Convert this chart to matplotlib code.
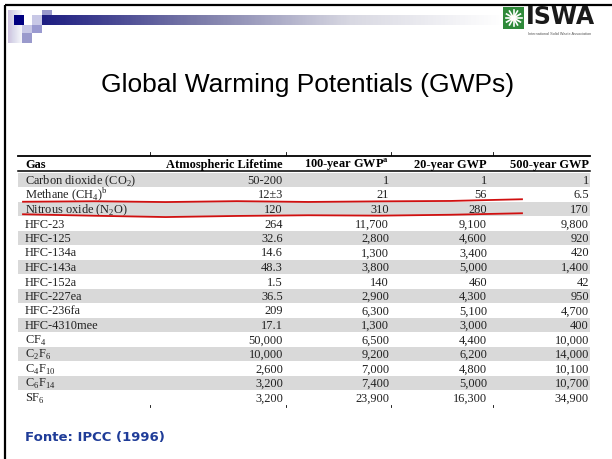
import numpy as np
import matplotlib.pyplot as plt
from matplotlib.patches import Rectangle, Circle
from matplotlib.colors import LinearSegmentedColormap

plt.rcParams['mathtext.fontset'] = 'custom'
plt.rcParams['mathtext.rm'] = 'Liberation Serif'
plt.rcParams['mathtext.bf'] = 'Liberation Serif:bold'

# table data (IPCC 1996)
gases = ['Carbon dioxide (CO$_2$)', 'Methane (CH$_4$)$^{\\mathrm{b}}$', 'Nitrous oxide (N$_2$O)',
         'HFC-23', 'HFC-125', 'HFC-134a', 'HFC-143a', 'HFC-152a', 'HFC-227ea', 'HFC-236fa',
         'HFC-4310mee', 'CF$_4$', 'C$_2$F$_6$', 'C$_4$F$_{10}$', 'C$_6$F$_{14}$', 'SF$_6$']
lifetime = ['50-200', '12\u00b13', '120', '264', '32.6', '14.6', '48.3', '1.5', '36.5', '209',
            '17.1', '50,000', '10,000', '2,600', '3,200', '3,200']
gwp100 = ['1', '21', '310', '11,700', '2,800', '1,300', '3,800', '140', '2,900', '6,300',
          '1,300', '6,500', '9,200', '7,000', '7,400', '23,900']
gwp20 = ['1', '56', '280', '9,100', '4,600', '3,400', '5,000', '460', '4,300', '5,100',
         '3,000', '4,400', '6,200', '4,800', '5,000', '16,300']
gwp500 = ['1', '6.5', '170', '9,800', '920', '420', '1,400', '42', '950', '4,700',
          '400', '10,000', '14,000', '10,100', '10,700', '34,900']
headers = ['Gas', 'Atmospheric Lifetime', '100-year GWP$^{\\mathbf{a}}$', '20-year GWP', '500-year GWP']
columns = [lifetime, gwp100, gwp20, gwp500]

# rows that are underlined by hand in red (Methane, Nitrous oxide)
marked_rows = [1, 2]
wobble = [[0.0, -0.5, 0.3, -0.6, 0.2, -0.4, -0.8, -2.5],
          [-2.0, -0.5, 0.8, -0.3, -1.0, -0.6, -1.5, -3.0]]

# layout in pixels of the slide
col_right = [283, 389, 487, 589]
row0, pitch = 180.0, 14.5
tab_left, tab_right = 18, 590

fig = plt.figure(figsize=(6.12, 4.59), dpi=100)
ax = fig.add_axes([0, 0, 1, 1])
ax.set_xlim(0, 612)
ax.set_ylim(459, 0)
ax.axis('off')

# slide frame
ax.plot([5, 5], [459, 5], color='black', lw=1.6, solid_capstyle='butt')
ax.plot([5, 612], [5, 5], color='black', lw=1.6, solid_capstyle='butt')

# header decoration
ax.imshow(np.linspace(0, 1, 256)[None, :], extent=(8, 22, 43, 10), cmap='Purples_r',
          vmin=-0.2, vmax=1.3, aspect='auto', alpha=0.3)
squares = [(14, 15, 10, 10, '#000080'), (22, 25, 10, 8, '#c8c8e6'), (22, 33, 10, 10, '#9a9acc'),
           (32, 25, 10, 8, '#9a9ad0'), (32, 15, 10, 10, '#c8c8e6'), (42, 10, 10, 5, '#9999cc')]
for x, y, w, h, c in squares:
    ax.add_patch(Rectangle((x, y), w, h, color=c, lw=0))
grad = np.linspace(0, 1, 300)[None, :]
bar_cmap = LinearSegmentedColormap.from_list('bar', ['#1e1e82', '#7a7aa8', '#d8d8e2', '#ffffff'])
ax.imshow(grad, extent=(42, 505, 25, 15), cmap=bar_cmap, aspect='auto')

# ISWA logo
ax.add_patch(Rectangle((503, 7), 21, 22, color='#2f8a3a', lw=0))
for a in np.linspace(0, 2 * np.pi, 12, endpoint=False):
    ax.plot([513.5, 513.5 + 8 * np.cos(a)], [18, 18 + 8 * np.sin(a)], color='white', lw=1.2)
ax.add_patch(Circle((513.5, 18), 3.2, color='#f2a33a', lw=0))
ax.text(526, 17.5, 'ISWA', fontsize=17, fontweight='bold', family='DejaVu Sans',
        color='#1a1a1a', va='center', ha='left')
ax.text(528, 34, 'International Solid Waste Association', fontsize=2.8,
        family='Liberation Sans', color='#555555', va='center', ha='left')

# title
ax.text(308, 85, 'Global Warming Potentials (GWPs)', fontsize=19, family='Liberation Sans',
        ha='center', va='center', color='black')

# table
serif = 'Liberation Serif'
fs = 8.9
ax.plot([tab_left, tab_right], [156, 156], color='black', lw=1.3)
ax.plot([tab_left, tab_right], [171, 171], color='black', lw=1.1)
for x in [150, 286, 391, 493]:
    ax.plot([x, x], [152, 155], color='black', lw=0.6)
    ax.plot([x, x], [405, 406.5], color='black', lw=0.6)

ax.text(25, 168, headers[0], fontsize=fs, family=serif, fontweight='bold', ha='left', va='baseline')
for h, xr in zip(headers[1:], col_right):
    ax.text(xr, 168, h, fontsize=fs, family=serif, fontweight='bold', ha='right', va='baseline')

for i, g in enumerate(gases):
    yc = row0 + i * pitch
    if i % 2 == 0:
        ax.add_patch(Rectangle((tab_left, yc - pitch / 2 + 0.5), tab_right - tab_left, pitch - 1,
                               color='#d9d9d9', lw=0, zorder=0))
    ax.text(25, yc + 4, g, fontsize=fs, family=serif, ha='left', va='baseline', color='#222222')
    for col, xr in zip(columns, col_right):
        ax.text(xr, yc + 4, col[i], fontsize=fs, family=serif, ha='right', va='baseline',
                color='#222222')

# red hand-drawn underlines
xs = np.linspace(23, 522, 8)
for r, wob in zip(marked_rows, wobble):
    yb = row0 + r * pitch + pitch / 2
    ax.plot(xs, yb + np.array(wob), color='#d01010', lw=1.3, zorder=5)

# source
ax.text(25, 438, 'Fonte: IPCC (1996)', fontsize=9.5, fontweight='bold', family='DejaVu Sans',
        color='#1f3c98', ha='left', va='center')

fig.savefig('out.png', dpi=100)
